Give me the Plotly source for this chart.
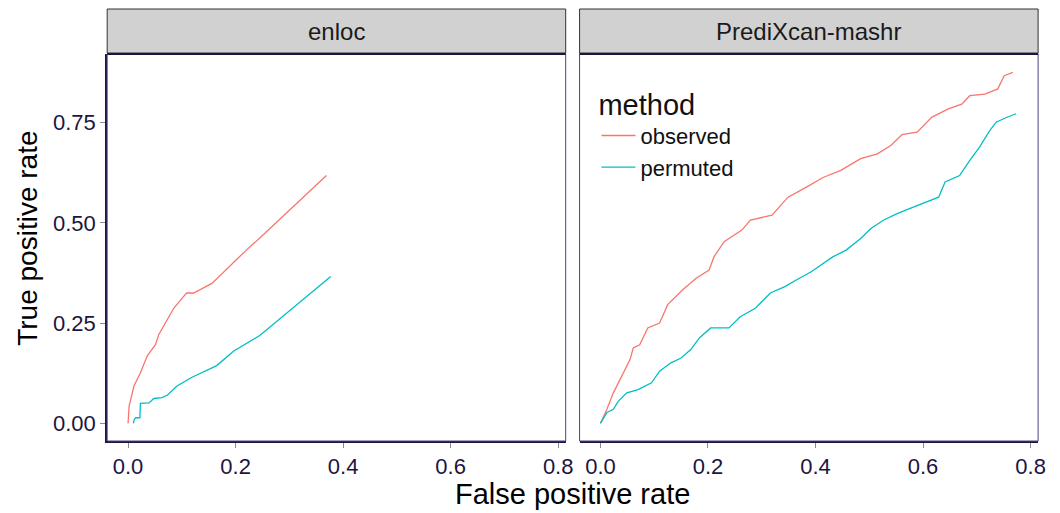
import plotly.graph_objects as go

# ROC curves: false positive rate vs true positive rate, per method
enloc_obs_fpr = [0.0, 0.002, 0.011, 0.023, 0.036, 0.051, 0.057, 0.073, 0.085, 0.103, 0.109, 0.122, 0.156, 0.220, 0.245, 0.369]
enloc_obs_tpr = [0.0, 0.043, 0.093, 0.126, 0.169, 0.196, 0.221, 0.258, 0.287, 0.316, 0.325, 0.325, 0.349, 0.432, 0.462, 0.618]

enloc_perm_fpr = [0.010, 0.011, 0.014, 0.022, 0.023, 0.039, 0.048, 0.063, 0.073, 0.091, 0.119, 0.165, 0.196, 0.245, 0.377]
enloc_perm_tpr = [0.0, 0.008, 0.014, 0.014, 0.050, 0.051, 0.062, 0.064, 0.070, 0.093, 0.115, 0.144, 0.180, 0.219, 0.366]

mashr_obs_fpr = [0.0, 0.012, 0.024, 0.042, 0.055, 0.061, 0.073, 0.088, 0.110, 0.125, 0.153, 0.178, 0.202, 0.211,
                 0.230, 0.263, 0.279, 0.319, 0.349, 0.383, 0.414, 0.447, 0.484, 0.515, 0.540, 0.561, 0.589, 0.616,
                 0.647, 0.672, 0.687, 0.715, 0.739, 0.751, 0.767]
mashr_obs_tpr = [0.0, 0.035, 0.076, 0.126, 0.159, 0.188, 0.196, 0.238, 0.250, 0.296, 0.333, 0.362, 0.382, 0.415,
                 0.453, 0.482, 0.507, 0.519, 0.564, 0.589, 0.613, 0.631, 0.660, 0.672, 0.693, 0.720, 0.726, 0.763,
                 0.784, 0.796, 0.817, 0.821, 0.834, 0.867, 0.875]

mashr_perm_fpr = [0.0, 0.012, 0.024, 0.033, 0.049, 0.070, 0.095, 0.110, 0.131, 0.150, 0.168, 0.184, 0.205, 0.239,
                  0.260, 0.288, 0.316, 0.343, 0.365, 0.392, 0.432, 0.457, 0.484, 0.503, 0.527, 0.552, 0.576, 0.607,
                  0.629, 0.641, 0.668, 0.687, 0.705, 0.724, 0.736, 0.754, 0.773]
mashr_perm_tpr = [0.0, 0.027, 0.035, 0.055, 0.076, 0.084, 0.101, 0.130, 0.151, 0.163, 0.184, 0.213, 0.238, 0.238,
                  0.266, 0.287, 0.325, 0.341, 0.358, 0.378, 0.415, 0.432, 0.461, 0.486, 0.507, 0.523, 0.536, 0.552,
                  0.564, 0.602, 0.618, 0.656, 0.689, 0.730, 0.751, 0.762, 0.772]

panels = ["enloc", "PrediXcan-mashr"]
x_ticks = [0.0, 0.2, 0.4, 0.6, 0.8]
x_tick_labels = ["0.0", "0.2", "0.4", "0.6", "0.8"]
y_ticks = [0.0, 0.25, 0.5, 0.75]
y_tick_labels = ["0.00", "0.25", "0.50", "0.75"]

RED = "#F8766D"
TEAL = "#00BFC4"
FONT = "Liberation Sans, Arial, sans-serif"
AXIS_DARK = "#1C1540"
BORDER = "#4E4282"
TICK_COL = "#8A8A9A"

W, H = 1060, 513
# panel pixel boxes (left, right, top, bottom)
boxes = [(108, 570, 54, 441), (584, 1046, 54, 441)]
strip_top, strip_bot = 9, 53

fig = go.Figure()

series = [
    (enloc_obs_fpr, enloc_obs_tpr, RED, "observed", "x", "y", True),
    (enloc_perm_fpr, enloc_perm_tpr, TEAL, "permuted", "x", "y", True),
    (mashr_obs_fpr, mashr_obs_tpr, RED, "observed", "x2", "y2", False),
    (mashr_perm_fpr, mashr_perm_tpr, TEAL, "permuted", "x2", "y2", False),
]
for xs, ys, col, name, xa, ya, show in series:
    fig.add_trace(go.Scatter(x=xs, y=ys, mode="lines", name=name, legendgroup=name,
                             showlegend=show, xaxis=xa, yaxis=ya,
                             line=dict(color=col, width=1.3)))

def px_x(p):
    return p / W

def px_y(p):
    return 1 - p / H

xr = [-0.0388, 0.814]
yr = [-0.044, 0.921]

axis_common = dict(range=xr, tickvals=x_ticks, ticktext=x_tick_labels, showgrid=False, zeroline=False,
                   ticks="outside", ticklen=5, tickcolor=TICK_COL, tickwidth=1,
                   tickfont=dict(family=FONT, size=22, color=AXIS_DARK),
                   showline=True, linecolor=AXIS_DARK, linewidth=2)

fig.update_layout(
    width=W, height=H,
    margin=dict(l=0, r=0, t=0, b=0),
    paper_bgcolor="white", plot_bgcolor="white",
    showlegend=True,
    legend=dict(x=px_x(601), y=px_y(77), xanchor="left", yanchor="top",
                bgcolor="rgba(0,0,0,0)", tracegroupgap=0, itemwidth=34,
                font=dict(family=FONT, size=22, color="#111111"),
                title=dict(text="method", font=dict(family=FONT, size=29, color="#111111"))),
)

fig.update_layout(
    xaxis=dict(domain=[px_x(boxes[0][0]), px_x(boxes[0][1])], anchor="y", **axis_common),
    xaxis2=dict(domain=[px_x(boxes[1][0]), px_x(boxes[1][1])], anchor="y2", **axis_common),
    yaxis=dict(domain=[px_y(boxes[0][3]), px_y(boxes[0][2])], anchor="x", range=yr,
               tickvals=y_ticks, ticktext=y_tick_labels, showgrid=False, zeroline=False,
               ticks="outside", ticklen=5, tickcolor=TICK_COL,
               tickfont=dict(family=FONT, size=22, color=AXIS_DARK),
               showline=True, linecolor=AXIS_DARK, linewidth=2),
    yaxis2=dict(domain=[px_y(boxes[1][3]), px_y(boxes[1][2])], anchor="x2", range=yr,
                showticklabels=False, ticks="", showgrid=False, zeroline=False, showline=False),
)

shapes = []
annotations = []
for (l, r, t, b), label in zip(boxes, panels):
    # thin panel border
    shapes.append(dict(type="rect", xref="paper", yref="paper",
                       x0=px_x(l), x1=px_x(r), y0=px_y(b), y1=px_y(t),
                       line=dict(color=BORDER, width=1), fillcolor="rgba(0,0,0,0)", layer="above"))
    # facet strip
    shapes.append(dict(type="rect", xref="paper", yref="paper",
                       x0=px_x(l), x1=px_x(r), y0=px_y(strip_bot), y1=px_y(strip_top),
                       line=dict(color="#333333", width=1), fillcolor="#D1D1D1", layer="above"))
    annotations.append(dict(text=label, xref="paper", yref="paper",
                            x=(px_x(l) + px_x(r)) / 2, y=(px_y(strip_top) + px_y(strip_bot)) / 2,
                            xanchor="center", yanchor="middle", showarrow=False,
                            font=dict(family=FONT, size=24, color="#1A1A1A")))
    # dark line where strip meets panel
    shapes.append(dict(type="line", xref="paper", yref="paper",
                       x0=px_x(l), x1=px_x(r), y0=px_y(t), y1=px_y(t),
                       line=dict(color=AXIS_DARK, width=2), layer="above"))

annotations.append(dict(text="False positive rate", xref="paper", yref="paper",
                        x=px_x(577), y=px_y(494), xanchor="center", yanchor="middle", showarrow=False,
                        font=dict(family=FONT, size=29, color="#000000")))
annotations.append(dict(text="True positive rate", xref="paper", yref="paper",
                        x=px_x(27), y=px_y(238), xanchor="center", yanchor="middle", showarrow=False,
                        textangle=-90, font=dict(family=FONT, size=28, color="#000000")))

fig.update_layout(shapes=shapes, annotations=annotations)
fig.write_html("out.html")
